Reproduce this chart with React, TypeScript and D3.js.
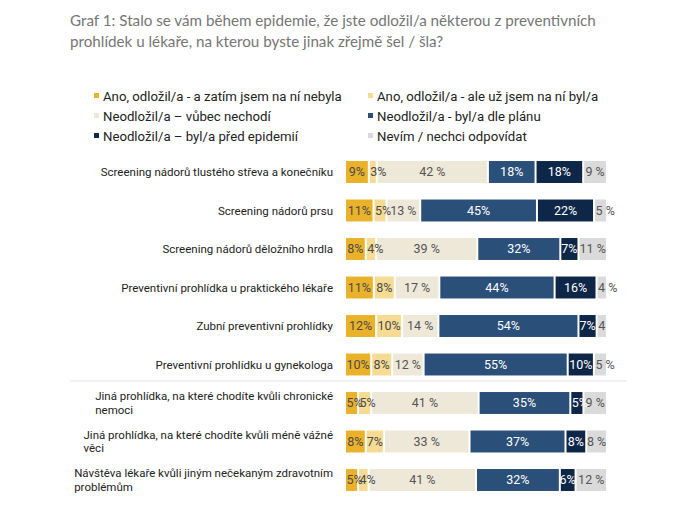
import React, { useEffect, useRef } from "react";
import * as d3 from "d3";

const titleLines = [
  "Graf 1: Stalo se vám během epidemie, že jste odložil/a některou z preventivních",
  "prohlídek u lékaře, na kterou byste jinak zřejmě šel / šla?",
];

const categories = [
  "Screening nádorů tlustého střeva a konečníku",
  "Screening nádorů prsu",
  "Screening nádorů děložního hrdla",
  "Preventivní prohlídka u praktického lékaře",
  "Zubní preventivní prohlídky",
  "Preventivní prohlídku u gynekologa",
  "Jiná prohlídka, na které chodíte kvůli chronické nemoci",
  "Jiná prohlídka, na které chodíte kvůli méně vážné věci",
  "Návštěva lékaře kvůli jiným nečekaným zdravotním problémům",
];

const seriesNames = [
  "Ano, odložil/a - a zatím jsem na ní nebyla",
  "Ano, odložil/a - ale už jsem na ní byl/a",
  "Neodložil/a –  vůbec nechodí",
  "Neodložil/a - byl/a dle plánu",
  "Neodložil/a  – byl/a před epidemií",
  "Nevím / nechci odpovídat",
];

const postponedNotYet = [9, 11, 8, 11, 12, 10, 5, 8, 5];
const postponedAlready = [3, 5, 4, 8, 10, 8, 5, 7, 4];
const notGoingAtAll = [42, 13, 39, 17, 14, 12, 41, 33, 41];
const asPlanned = [18, 45, 32, 44, 54, 55, 35, 37, 32];
const beforeEpidemic = [18, 22, 7, 16, 7, 10, 5, 8, 6];
const dontKnow = [9, 5, 11, 4, 4, 5, 9, 8, 12];
// labels as printed in the chart for the last series (one is truncated)
const dontKnowLabels = ["9 %", "5 %", "11 %", "4 %", "4", "5 %", "9 %", "8 %", "12 %"];

const seriesValues = [postponedNotYet, postponedAlready, notGoingAtAll, asPlanned, beforeEpidemic, dontKnow];
const seriesSuffix = ["%", "%", " %", "%", "%", " %"];
const colors = ["#EAB22B", "#F5DB93", "#EEE8D9", "#2A4F78", "#0E2749", "#DADADA"];
const labelColors = ["#4a4a4a", "#4a4a4a", "#555", "#fff", "#fff", "#555"];

const FONT = "Roboto, sans-serif";

export default function App() {
  const ref = useRef<SVGSVGElement>(null);

  useEffect(() => {
    const svg = d3.select(ref.current);
    svg.selectAll("*").remove();

    // Title
    svg
      .append("g")
      .selectAll("text")
      .data(titleLines)
      .join("text")
      .attr("x", 70)
      .attr("y", (_, i) => 26 + i * 21)
      .attr("font-family", "Lato, sans-serif")
      .attr("font-size", 15.2)
      .attr("fill", "#757575")
      .text((d) => d);

    // Legend
    const legend = svg.append("g");
    seriesNames.forEach((name, i) => {
      const col = i % 2;
      const row = Math.floor(i / 2);
      const x = col === 0 ? 94 : 368;
      const y = 96 + row * 20;
      legend
        .append("rect")
        .attr("x", x)
        .attr("y", y - 3)
        .attr("width", 5)
        .attr("height", 5)
        .attr("fill", colors[i]);
      legend
        .append("text")
        .attr("x", x + 9)
        .attr("y", y)
        .attr("dy", "0.35em")
        .attr("font-family", FONT)
        .attr("font-size", 13.2)
        .attr("fill", "#222")
        .text(name);
    });

    const xStart = 346;
    const xEnd = 608;

    const y = d3
      .scaleBand<string>()
      .domain(categories)
      .range([152.75, 499.25])
      .paddingInner(0.43)
      .paddingOuter(0.215);

    // Separator line
    svg
      .append("line")
      .attr("x1", 70)
      .attr("x2", 627)
      .attr("y1", 381)
      .attr("y2", 381)
      .attr("stroke", "#eeeeee")
      .attr("stroke-width", 1.5);

    // Category labels (wrapped, right aligned block, left-aligned lines)
    const labelRight = 333;
    const maxW = 272;
    const catSize = 11.5;
    categories.forEach((cat) => {
      const g = svg.append("g");
      const measure = g
        .append("text")
        .attr("font-family", FONT)
        .attr("font-size", catSize)
        .attr("visibility", "hidden");
      const words = cat.split(" ");
      const lines: string[] = [];
      let cur = "";
      words.forEach((w) => {
        const test = cur ? cur + " " + w : w;
        measure.text(test);
        const len = (measure.node() as SVGTextElement).getComputedTextLength();
        if (len > maxW && cur) {
          lines.push(cur);
          cur = w;
        } else cur = test;
      });
      if (cur) lines.push(cur);
      let widest = 0;
      lines.forEach((l) => {
        measure.text(l);
        widest = Math.max(widest, (measure.node() as SVGTextElement).getComputedTextLength());
      });
      measure.remove();
      const cy = (y(cat) as number) + y.bandwidth() / 2;
      const lh = 13.5;
      lines.forEach((l, li) => {
        g.append("text")
          .attr("x", labelRight - widest)
          .attr("y", cy + (li - (lines.length - 1) / 2) * lh)
          .attr("dy", "0.35em")
          .attr("font-family", FONT)
          .attr("font-size", catSize)
          .attr("fill", "#222")
          .text(l);
      });
    });

    // Bars
    categories.forEach((cat, ci) => {
      const vals = seriesValues.map((s) => s[ci]);
      const total = d3.sum(vals);
      const x = d3.scaleLinear().domain([0, total]).range([xStart, xEnd]);
      const by = y(cat) as number;
      const bh = y.bandwidth();
      const segs = vals.map((v, si) => {
        const before = d3.sum(vals.slice(0, si));
        const x0 = x(before);
        const x1 = x(before + v);
        return { v, si, x0, segW: Math.max(0, x1 - x0 - 2) };
      });
      const gBars = svg.append("g");
      const gLabels = svg.append("g");
      segs.forEach(({ si, x0, segW }) => {
        gBars
          .append("rect")
          .attr("x", x0)
          .attr("y", by)
          .attr("width", segW)
          .attr("height", bh)
          .attr("fill", colors[si]);
      });
      segs.forEach(({ v, si, x0, segW }) => {
        const label = si === 5 ? dontKnowLabels[ci] : `${v}${seriesSuffix[si]}`;
        const t = gLabels
          .append("text")
          .attr("y", by + bh / 2)
          .attr("dy", "0.35em")
          .attr("font-family", FONT)
          .attr("font-size", 12.5)
          .attr("fill", labelColors[si])
          .text(label);
        const tw = (t.node() as SVGTextElement).getComputedTextLength();
        if (tw > segW + 4) {
          t.attr("x", x0 + 0.5).attr("text-anchor", "start");
        } else {
          t.attr("x", x0 + segW / 2).attr("text-anchor", "middle");
        }
      });
    });
  }, []);

  return (
    <svg
      ref={ref}
      width={682}
      height={525}
      style={{ position: "absolute", left: 0, top: 0, background: "#fff" }}
    />
  );
}
